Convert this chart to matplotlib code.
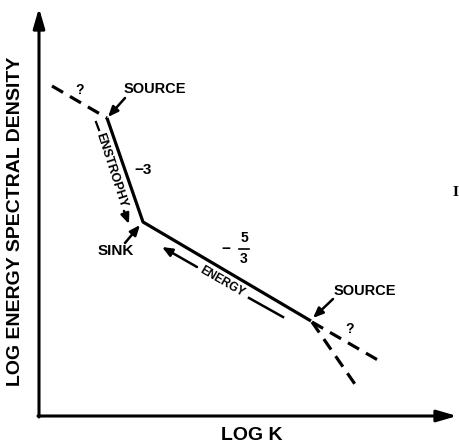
import matplotlib
matplotlib.use("Agg")

import matplotlib.pyplot as plt

# schematic coordinates (image units: log k to the right, log E downward)
axis_origin = (39, 416)
axis_k_end = 457
axis_E_end = 8

# solid spectrum: source -> sink -> source
spectrum_k = [107, 143, 311]
spectrum_E = [118, 222, 321]

# dashed, uncertain parts
left_dash_k = [52, 107]
left_dash_E = [86, 118]
right_dash_k = [[312, 383], [312, 359]]
right_dash_E = [[322, 363], [322, 390]]

slope_labels = ["−3", "−", "5", "3"]
flux_labels = ["ENSTROPHY", "ENERGY"]
point_labels = ["SOURCE", "SINK", "SOURCE"]

FONT = ["Liberation Sans", "DejaVu Sans"]
LW = 2.3

fig = plt.figure(figsize=(4.59, 4.45), dpi=100)
ax = fig.add_axes([0, 0, 1, 1])
ax.set_xlim(0, 459)
ax.set_ylim(445, 0)
ax.axis("off")

# axes with arrow heads
head = dict(arrowstyle="-|>,head_length=1.2,head_width=0.35", color="black", lw=2.2,
            shrinkA=0, shrinkB=0)
ax.annotate("", xy=(axis_origin[0], axis_E_end), xytext=(axis_origin[0], axis_origin[1] + 1),
            arrowprops=head)
ax.annotate("", xy=(axis_k_end, axis_origin[1]), xytext=(axis_origin[0] - 1, axis_origin[1]),
            arrowprops=head)

# spectrum
ax.plot(spectrum_k, spectrum_E, color="black", lw=LW, solid_capstyle="butt")
ax.plot(left_dash_k, left_dash_E, color="black", lw=LW, dashes=(4, 2.5))
for ks, es in zip(right_dash_k, right_dash_E):
    ax.plot(ks, es, color="black", lw=LW, dashes=(4, 2.5))

# labels
bold = dict(family=FONT, fontweight="bold", color="black")
ax.text(252, 436, "LOG K", fontsize=14, ha="center", va="center", **bold)
ax.text(16, 221, "LOG ENERGY SPECTRAL DENSITY", fontsize=14, rotation=90,
        ha="center", va="center", **bold)

ax.text(155, 89, point_labels[0], fontsize=10.5, ha="center", va="center", **bold)
ax.text(116, 251, point_labels[1], fontsize=11, ha="center", va="center", **bold)
ax.text(365, 291, point_labels[2], fontsize=10.5, ha="center", va="center", **bold)
ax.text(80, 90, "?", fontsize=10, ha="center", va="center", **bold)
ax.text(350, 329, "?", fontsize=10, ha="center", va="center", **bold)

ax.text(143, 170, slope_labels[0], fontsize=11, ha="center", va="center", **bold)
ax.text(226, 249, slope_labels[1], fontsize=11, ha="center", va="center", **bold)
ax.text(244, 238, slope_labels[2], fontsize=10, ha="center", va="center", **bold)
ax.text(244, 259, slope_labels[3], fontsize=10, ha="center", va="center", **bold)
ax.plot([239, 249], [248.5, 248.5], color="black", lw=1.2)

# pointer arrows
ptr = dict(arrowstyle="-|>,head_length=0.6,head_width=0.25", color="black", lw=1.8,
           shrinkA=0, shrinkB=0)
ax.annotate("", xy=(108, 117), xytext=(125, 98), arrowprops=ptr)
ax.annotate("", xy=(140, 225), xytext=(125, 243), arrowprops=ptr)
ax.annotate("", xy=(313, 318), xytext=(333, 299), arrowprops=ptr)

# enstrophy flux (downscale)
ax.text(111, 170, flux_labels[0], fontsize=9, rotation=-72, rotation_mode="anchor",
        ha="center", va="center", **bold)
ax.plot([96, 99], [122, 130], color="black", lw=1.6)
ax.annotate("", xy=(129, 224), xytext=(124, 211), arrowprops=ptr)

# energy flux (upscale)
ax.text(222, 282, flux_labels[1], fontsize=8.5, rotation=-30, rotation_mode="anchor",
        ha="center", va="center", **bold)
ax.annotate("", xy=(162, 247), xytext=(197, 267), arrowprops=ptr)
ax.plot([249, 283], [298, 317], color="black", lw=1.8)

# stray mark at the right edge of the scan
ax.text(455, 193, "I", fontsize=9, family="DejaVu Serif", fontweight="bold",
        ha="center", va="center")

fig.savefig("out.png", dpi=100)
